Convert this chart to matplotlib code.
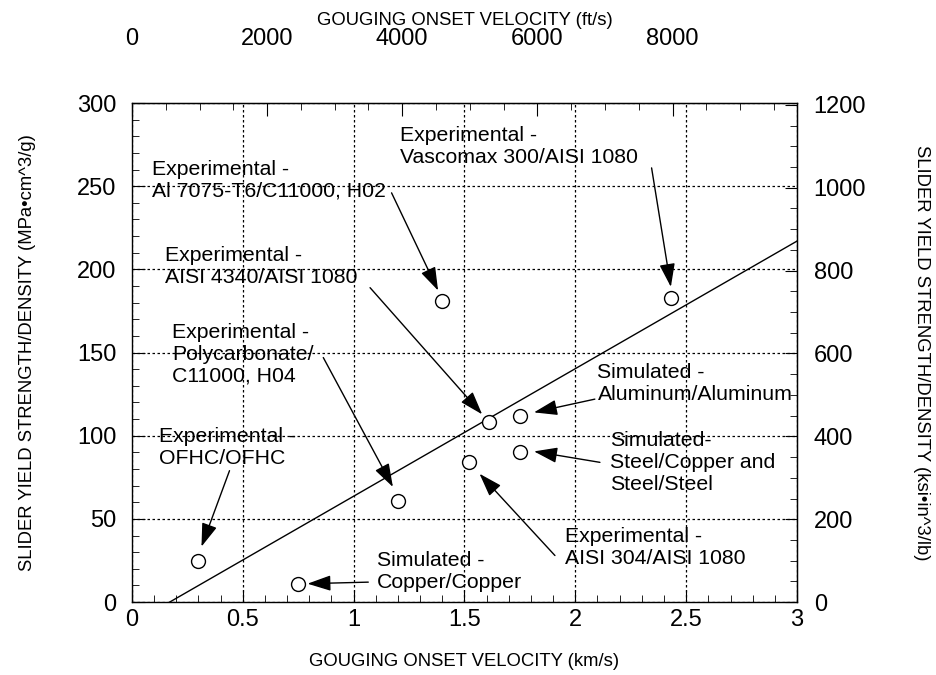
import numpy as np
import matplotlib
matplotlib.use("Agg")
from matplotlib import pyplot as plt
from matplotlib.ticker import MultipleLocator, FormatStrFormatter, FixedLocator

plt.rcParams['font.family'] = ['Liberation Sans', 'DejaVu Sans']

# ---- data (km/s, MPa*cm^3/g) ----
velocity = [1.40, 2.43, 1.61, 1.20, 0.30, 0.75, 1.75, 1.75, 1.52]
strength = [181, 183, 108, 61, 25, 11, 112, 90, 84]
names = [
  "Experimental -\nAl 7075-T6/C11000, H02",
  "Experimental -\nVascomax 300/AISI 1080",
  "Experimental -\nAISI 4340/AISI 1080",
  "Experimental -\nPolycarbonate/\nC11000, H04",
  "Experimental -\nOFHC/OFHC",
  "Simulated -\nCopper/Copper",
  "Simulated -\nAluminum/Aluminum",
  "Simulated-\nSteel/Copper and\nSteel/Steel",
  "Experimental -\nAISI 304/AISI 1080",
]

# trend line end points
line_v = [0.17, 3.0]
line_s = [0.0, 217.0]

# tick values
fts_ticks = [0, 2000, 4000, 6000, 8000]
ksi_ticks = [0, 200, 400, 600, 800, 1000, 1200]

# ---- label layout (data coords): text top-left, arrow tail, arrow head ----
text_pos = [(0.09, 266), (1.21, 286), (0.15, 214), (0.18, 168), (0.12, 105),
            (1.105, 31), (2.10, 144), (2.155, 103), (1.953, 45)]
arrow_tail = [(1.171, 246), (2.344, 261), (1.074, 189), (0.863, 147), (0.44, 79),
              (1.066, 12), (2.088, 122), (2.111, 84), (1.908, 28)]
arrow_head = [(1.389, 185), (2.434, 187), (1.592, 111), (1.186, 67), (0.307, 31),
              (0.773, 11), (1.795, 113.5), (1.795, 91), (1.555, 79)]

KM_TO_FT = 3280.84
MPA_TO_KSI = 4.0146

fig = plt.figure(figsize=(9.36, 6.75), dpi=100)
ax = fig.add_axes([0.141, 0.108, 0.7105, 0.7394])

ax.plot(line_v, line_s, color='k', lw=1)
ax.plot(velocity, strength, 'o', mfc='white', mec='k', ms=10, mew=1, zorder=3)

for name, tp, tail, head in zip(names, text_pos, arrow_tail, arrow_head):
  ax.text(tp[0], tp[1], name, fontsize=15.3, va='top', ha='left',
          linespacing=1.2, zorder=4)
  ax.annotate('', xy=head, xytext=tail,
              arrowprops=dict(arrowstyle='-|>,head_length=0.9,head_width=0.3',
                              color='k', lw=1, shrinkA=0, shrinkB=3,
                              mutation_scale=16))

ax.set_xlim(0, 3)
ax.set_ylim(0, 300)
ax.xaxis.set_major_locator(MultipleLocator(0.5))
ax.xaxis.set_minor_locator(MultipleLocator(0.1))
ax.xaxis.set_major_formatter(FormatStrFormatter('%g'))
ax.yaxis.set_major_locator(MultipleLocator(50))
ax.yaxis.set_minor_locator(MultipleLocator(10))
ax.grid(True, which='major', color='k', lw=0.9, linestyle=(0, (2, 2)))
ax.tick_params(which='both', direction='in', labelsize=17)
ax.tick_params(which='major', length=9)
ax.tick_params(which='minor', length=5)
ax.tick_params(axis='x', pad=5)
ax.tick_params(axis='y', pad=11)
for s in ax.spines.values():
  s.set_linewidth(1)

ax.set_xlabel("GOUGING ONSET VELOCITY (km/s)", fontsize=13.3, labelpad=16)
ax.set_ylabel("SLIDER YIELD STRENGTH/DENSITY (MPa\u2022cm^3/g)", fontsize=13.3, labelpad=30)

top = ax.secondary_xaxis('top', functions=(lambda v: v * KM_TO_FT, lambda f: f / KM_TO_FT))
top.xaxis.set_major_locator(FixedLocator(fts_ticks))
top.xaxis.set_minor_locator(MultipleLocator(500))
top.xaxis.set_major_formatter(FormatStrFormatter('%d'))
top.tick_params(which='both', direction='in', labelsize=17, pad=38)
top.tick_params(which='major', length=9)
top.tick_params(which='minor', length=5)
top.set_xlabel("GOUGING ONSET VELOCITY (ft/s)", fontsize=13.3, labelpad=2)

right = ax.secondary_yaxis('right', functions=(lambda m: m * MPA_TO_KSI, lambda k: k / MPA_TO_KSI))
right.yaxis.set_major_locator(FixedLocator(ksi_ticks))
right.yaxis.set_minor_locator(MultipleLocator(50))
right.yaxis.set_major_formatter(FormatStrFormatter('%d'))
right.tick_params(which='both', direction='in', labelsize=17, pad=12)
right.tick_params(which='major', length=9)
right.tick_params(which='minor', length=5)
right.set_ylabel("SLIDER YIELD STRENGTH/DENSITY (ksi\u2022in^3/lb)", fontsize=13.3,
                 rotation=270, labelpad=46)

fig.savefig("out.png", dpi=100)
